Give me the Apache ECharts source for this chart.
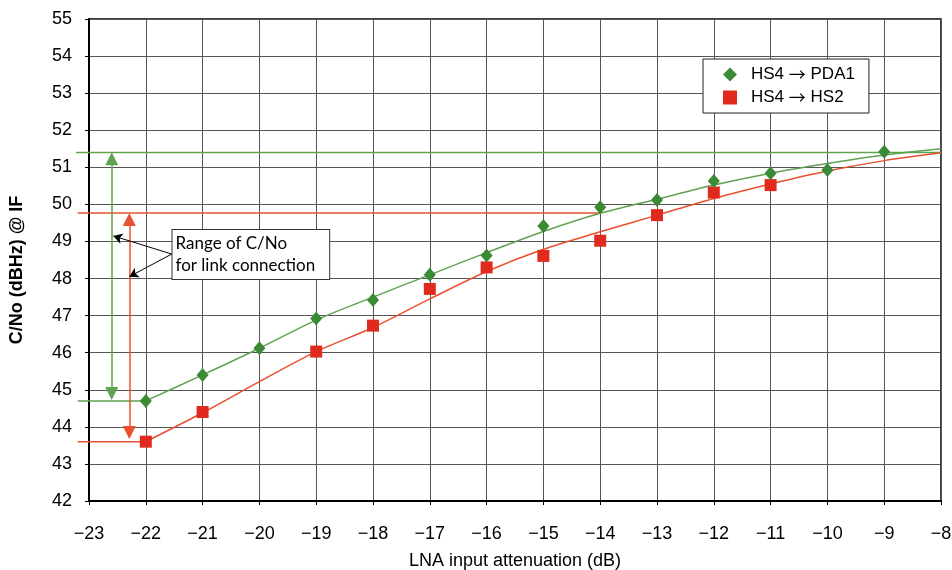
<!DOCTYPE html>
<html>
<head>
<meta charset="utf-8">
<script src="https://cdn.jsdelivr.net/npm/echarts@6/dist/echarts.min.js"></script>
<style>html,body{margin:0;padding:0;background:#fff}#c{width:952px;height:570px}</style>
</head>
<body>
<div id="c"></div>
<script>
// ---- data ----
const attenuation = [-22, -21, -20, -19, -18, -17, -16, -15, -14, -13, -12, -11, -10, -9];
const pda1Values = [44.7, 45.4, 46.12, 46.92, 47.42, 48.1, 48.62, 49.42, 49.92, 50.12, 50.63, 50.84, 50.93, 51.42];
const hs2Attenuation = [-22, -21, -19, -18, -17, -16, -15, -14, -13, -12, -11];
const hs2Values = [43.6, 44.4, 46.03, 46.73, 47.72, 48.3, 48.61, 49.02, 49.71, 50.32, 50.52];
const trendX = [-22, -21, -20, -19, -18, -17, -16, -15, -14, -13, -12, -11, -10, -9, -8];
const pda1Trend = [44.7, 45.4, 46.12, 46.88, 47.5, 48.1, 48.7, 49.27, 49.76, 50.14, 50.52, 50.84, 51.1, 51.33, 51.5];
const hs2Trend = [43.6, 44.38, 45.22, 46.03, 46.68, 47.45, 48.19, 48.79, 49.26, 49.71, 50.16, 50.55, 50.9, 51.18, 51.39];
const pda1Max = 51.4, pda1Min = 44.7;
const hs2Max = 49.77, hs2Min = 43.6;
const xTicks = {min: -23, max: -8, step: 1};
const yTicks = {min: 42, max: 55, step: 1};
const seriesNames = ['HS4 \u2192 PDA1', 'HS4 \u2192 HS2'];
const annotationText = 'Range of C/No\nfor link connection';

// ---- annotation geometry (data units) ----
const refLeft = -23.2;
const hs2RefEnd = -14;
const arrowPda1X = -22.6, arrowHs2X = -22.29;
const calloutFrom = [-21.544, 48.66];
const calloutTo = [[-22.572, 49.15], [-22.29, 48.05]];
const calloutBox = [-21.53, 49.31];

const GREEN_M = '#3b8a35', GREEN_L = '#5fa24f';
const RED_M = '#e02a1e', RED_L = '#e8502e';

const zip = (xs, ys) => xs.map((x, i) => [x, ys[i]]);
const minus = v => String(v).replace('-', '\u2212');
const legendFmt = name => name.split('\u2192').map(s => '{t|' + s + '}').join('{a|\u2192}');

const chart = echarts.init(document.getElementById('c'), null, {renderer: 'canvas'});
chart.setOption({
  animation: false,
  backgroundColor: '#fff',
  grid: {left: 89, right: 11, top: 19, bottom: 69, show: true, borderColor: '#000', borderWidth: 1.5,
         containLabel: false, outerBoundsMode: 'none'},
  legend: {
    data: seriesNames,
    orient: 'vertical',
    left: 703, top: 59,
    padding: [7, 14, 7, 20],
    itemGap: 6,
    itemWidth: 14, itemHeight: 14,
    backgroundColor: '#fff',
    borderColor: '#222', borderWidth: 1,
    formatter: legendFmt,
    textStyle: {fontSize: 17, color: '#000', fontFamily: 'Liberation Sans', padding: [0, 0, 0, 9],
      rich: {
        t: {fontSize: 17, color: '#000', fontFamily: 'Liberation Sans'},
        a: {fontSize: 17, color: '#000', fontFamily: 'Noto Sans CJK JP'}
      }}
  },
  xAxis: {
    type: 'value', min: xTicks.min, max: xTicks.max, interval: xTicks.step,
    name: 'LNA input attenuation (dB)', nameLocation: 'middle', nameGap: 51,
    nameTextStyle: {fontSize: 18, color: '#000', fontFamily: 'Liberation Sans'},
    axisLine: {lineStyle: {color: '#000', width: 2}},
    axisTick: {show: true, length: 4, lineStyle: {color: '#000'}},
    axisLabel: {formatter: minus, fontSize: 18, color: '#000', margin: 24, fontFamily: 'Liberation Sans'},
    splitLine: {show: true, lineStyle: {color: '#555', width: 1}}
  },
  yAxis: {
    type: 'value', min: yTicks.min, max: yTicks.max, interval: yTicks.step,
    name: 'C/No (dBHz) @ IF', nameLocation: 'middle', nameGap: 63,
    nameTextStyle: {fontSize: 18, fontWeight: 'bold', color: '#000', fontFamily: 'Liberation Sans', padding: [0, 20, 0, 0]},
    axisLine: {lineStyle: {color: '#000', width: 2}},
    axisTick: {show: true, length: 4, lineStyle: {color: '#000'}},
    axisLabel: {fontSize: 18, color: '#000', margin: 17, fontFamily: 'Liberation Sans'},
    splitLine: {show: true, lineStyle: {color: '#555', width: 1}}
  },
  series: [
    {type: 'line', name: 'pda1Trend', data: zip(trendX, pda1Trend), smooth: 0.3,
     symbol: 'none', lineStyle: {color: GREEN_L, width: 1.5}, silent: true, z: 3},
    {type: 'line', name: 'hs2Trend', data: zip(trendX, hs2Trend), smooth: 0.3,
     symbol: 'none', lineStyle: {color: RED_L, width: 1.5}, silent: true, z: 3},
    {type: 'line', name: 'arrows', data: [], silent: true, z: 4,
     markLine: {
       silent: true, animation: false,
       symbol: ['triangle', 'triangle'], symbolSize: [13, 13],
       label: {show: false},
       data: [
         [{coord: [arrowPda1X, pda1Max - 0.17], lineStyle: {color: GREEN_L, width: 1.5, type: 'solid'}, itemStyle: {color: GREEN_M}},
          {coord: [arrowPda1X, pda1Min + 0.2]}],
         [{coord: [arrowHs2X, hs2Max - 0.18], lineStyle: {color: RED_L, width: 1.5, type: 'solid'}, itemStyle: {color: RED_M}},
          {coord: [arrowHs2X, hs2Min + 0.25]}],
         [{coord: calloutFrom, symbol: 'none', lineStyle: {color: '#000', width: 1, type: 'solid'}, itemStyle: {color: '#000'}},
          {coord: calloutTo[0], symbol: 'arrow', symbolSize: [8, 9]}],
         [{coord: calloutFrom, symbol: 'none', lineStyle: {color: '#000', width: 1, type: 'solid'}, itemStyle: {color: '#000'}},
          {coord: calloutTo[1], symbol: 'arrow', symbolSize: [8, 9]}]
       ]
     },
     markPoint: {
       silent: true, animation: false,
       data: [{coord: calloutBox, symbol: 'rect', symbolSize: 0,
         label: {show: true, position: [0, 0], align: 'left', verticalAlign: 'top',
           formatter: annotationText, color: '#000', fontSize: 17, fontFamily: 'Lato',
           lineHeight: 22, backgroundColor: '#fff', borderColor: '#333', borderWidth: 1,
           padding: [3, 14, 2, 3]}}]
     }
    },
    {type: 'scatter', name: seriesNames[0], data: zip(attenuation, pda1Values),
     symbol: 'diamond', symbolSize: [12, 14], itemStyle: {color: GREEN_M, opacity: 1}, z: 6},
    {type: 'scatter', name: seriesNames[1], data: zip(hs2Attenuation, hs2Values),
     symbol: 'rect', symbolSize: 12, itemStyle: {color: RED_M, opacity: 1}, z: 5}
  ]
});

// Horizontal reference lines (extend slightly left of the plot) placed through the axis scales
const px = (x, y) => chart.convertToPixel({gridIndex: 0}, [x, y]);
const hLine = (x1, x2, y, color) => {
  const a = px(x1, y), b = px(x2, y);
  return {type: 'line', silent: true, z: 3,
    shape: {x1: a[0], y1: a[1], x2: b[0], y2: b[1]},
    style: {stroke: color, lineWidth: 1.5}};
};
chart.setOption({
  graphic: [
    hLine(refLeft - 0.03, xTicks.max, pda1Max, GREEN_L),
    hLine(refLeft, hs2RefEnd, hs2Max, RED_L),
    hLine(refLeft, -22, pda1Min, GREEN_L),
    hLine(refLeft, -22, hs2Min, RED_L)
  ]
});
</script>
</body>
</html>
